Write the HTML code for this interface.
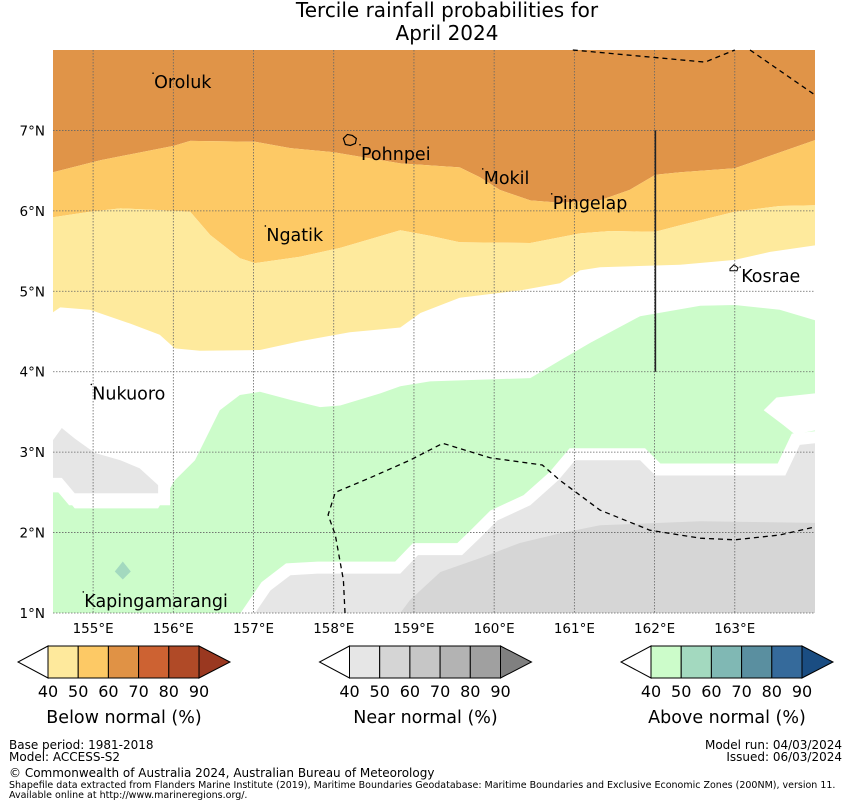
<!DOCTYPE html>
<html><head><meta charset="utf-8"><style>
body{margin:0;background:#fff;}
svg text{font-family:"DejaVu Sans","Liberation Sans",sans-serif;fill:#000;}
</style></head><body>
<svg id="chart" width="850" height="804" xmlns="http://www.w3.org/2000/svg">
<text x="447" y="17" font-size="20" text-anchor="middle">Tercile rainfall probabilities for</text>
<text x="447" y="40" font-size="20" text-anchor="middle">April 2024</text>
<g id="map"></g>
<g id="axes"></g>
<g id="bars"></g>
<g font-size="12">
<text x="9" y="749" font-size="12">Base period: 1981-2018</text>
<text x="9" y="761" font-size="12">Model: ACCESS-S2</text>
<text x="9" y="777" font-size="12">© Commonwealth of Australia 2024, Australian Bureau of Meteorology</text>
<text x="9" y="788" font-size="9.5">Shapefile data extracted from Flanders Marine Institute (2019), Maritime Boundaries Geodatabase: Maritime Boundaries and Exclusive Economic Zones (200NM), version 11.</text>
<text x="9" y="798" font-size="9.5">Available online at http://www.marineregions.org/.</text>
<text x="842" y="749" font-size="12" text-anchor="end">Model run: 04/03/2024</text>
<text x="842" y="761" font-size="12" text-anchor="end">Issued: 06/03/2024</text>
</g>
</svg>
<script>
const lonTicks=[155,156,157,158,159,160,161,162,163];
const latTicks=[1,2,3,4,5,6,7];
const belowTop60=[[154.5,6.48],[155.09,6.63],[156.01,6.81],[156.21,6.87],[157.02,6.86],[157.46,6.78],[157.99,6.73],[158.83,6.59],[159.57,6.54],[159.82,6.42],[160.07,6.26],[160.45,6.13],[160.82,6.10],[161.32,6.13],[161.69,6.26],[162.01,6.45],[162.32,6.48],[163.0,6.53],[164.0,6.88]];
const below50=[[154.5,5.92],[154.96,5.99],[155.34,6.03],[155.83,6.01],[156.21,5.99],[156.46,5.70],[156.83,5.41],[157.02,5.35],[157.58,5.43],[158.08,5.54],[158.83,5.76],[159.2,5.69],[159.57,5.61],[160.45,5.60],[161.07,5.72],[161.45,5.75],[162.01,5.74],[162.32,5.82],[163.0,5.99],[163.56,6.06],[164.0,6.07]];
const below40=[[154.5,4.74],[154.59,4.80],[154.96,4.77],[155.46,4.60],[155.83,4.46],[156.02,4.29],[156.33,4.26],[157.08,4.27],[157.58,4.38],[158.2,4.49],[158.83,4.55],[159.08,4.73],[159.57,4.92],[160.32,5.01],[160.82,5.10],[161.07,5.26],[161.32,5.30],[162.32,5.33],[163.0,5.39],[163.44,5.49],[164.0,5.57]];
const above40=[[154.5,2.50],[154.61,2.50],[154.77,2.30],[155.81,2.30],[156.02,2.65],[156.27,2.90],[156.58,3.52],[156.83,3.71],[157.08,3.75],[157.46,3.65],[157.83,3.56],[158.08,3.58],[158.58,3.73],[158.83,3.82],[159.2,3.88],[160.45,3.92],[160.82,4.14],[161.2,4.36],[161.82,4.69],[162.57,4.82],[163.0,4.83],[163.56,4.77],[164.0,4.64]];
const hole=[[163.36,3.52],[163.52,3.68],[164,3.73],[164,3.27],[163.75,3.22],[163.6,3.34]];
const near40=[[157.02,1.0],[157.21,1.28],[157.46,1.47],[157.8,1.49],[158.83,1.49],[159.05,1.72],[159.6,1.72],[159.82,1.93],[160.04,2.15],[160.45,2.34],[160.8,2.65],[161.01,2.90],[161.82,2.90],[162.01,2.71],[163.63,2.71],[163.81,3.09],[164,3.11],[164,1.0]];
const nearBlob=[[154.5,2.68],[154.5,3.15],[154.61,3.30],[154.77,3.17],[155.02,2.99],[155.34,2.90],[155.58,2.80],[155.81,2.59],[155.81,2.49],[154.77,2.49],[154.61,2.68]];
const near50=[[158.83,1.0],[158.95,1.16],[159.33,1.51],[159.82,1.68],[160.32,1.87],[160.82,1.99],[161.32,2.09],[162.57,2.14],[164,2.12],[164,1.0]];
const eezSouth=[[158.14,1.0],[158.12,1.41],[158.02,1.97],[157.93,2.22],[158.02,2.50],[158.45,2.68],[158.95,2.90],[159.36,3.11],[159.95,2.93],[160.6,2.84],[160.82,2.65],[161.32,2.28],[161.94,2.03],[162.57,1.93],[163,1.91],[163.56,1.97],[164,2.07]];
const eezNorth1=[[160.98,8.0],[162.63,7.85],[163,8.0]];
const eezNorth2=[[163.19,8.0],[164,7.44]];
const spotLon=155.37, spotLat=1.64;
const places=["Oroluk","Pohnpei","Mokil","Pingelap","Ngatik","Kosrae","Nukuoro","Kapingamarangi"];
const placeLon=[155.76,158.34,159.87,160.73,157.16,163.08,154.99,154.89];
const placeLat=[7.60,6.71,6.41,6.10,5.70,5.19,3.73,1.15];
const barLabels=["40","50","60","70","80","90"];
const belowColors=["#fee99c","#fdc965","#e09245","#cd6232","#b04a27","#9a3820"];
const nearColors=["#e6e6e6","#d5d5d5","#c6c6c6","#b3b3b3","#a0a0a0","#808080"];
const aboveColors=["#ccfcca","#a3d9bf","#80b8b4","#5a8fa0","#356a9b","#1a4d82"];
const barTitles=["Below normal (%)","Near normal (%)","Above normal (%)"];

const NS="http://www.w3.org/2000/svg";
const X0=53,X1=815,Y0=50,Y1=613,LON0=154.5,LON1=164,LAT0=1,LAT1=8;
function px(lon){return X0+(lon-LON0)*(X1-X0)/(LON1-LON0);}
function py(lat){return Y1-(lat-LAT0)*(Y1-Y0)/(LAT1-LAT0);}
function mk(tag,attrs,parent){const e=document.createElementNS(NS,tag);for(const k in attrs)e.setAttribute(k,attrs[k]);parent.appendChild(e);return e;}
function pts(a){return a.map(p=>px(p[0]).toFixed(1)+","+py(p[1]).toFixed(1)).join(" ");}
function band(top,bottom){return pts(top)+" "+pts(bottom.slice().reverse());}
const map=document.getElementById('map');
const topEdge=[[LON0,LAT1],[LON1,LAT1]], botEdge=[[LON0,LAT0],[LON1,LAT0]];
let e;
e=mk('rect',{x:X0,y:Y0,width:X1-X0,height:Y1-Y0,fill:'#ffffff'},map);

e=mk('polygon',{points:band(topEdge,belowTop60),fill:'#e09448'},map);

e=mk('polygon',{points:band(belowTop60,below50),fill:'#fdc965'},map);

e=mk('polygon',{points:band(below50,below40),fill:'#feea9d'},map);

e=mk('polygon',{points:band(above40,botEdge),fill:'#ccfcca'},map);

e=mk('polygon',{points:pts(hole),fill:'#ffffff'},map);

e=mk('polygon',{points:pts(near40),fill:'#e6e6e6',stroke:'#ffffff','stroke-width':24,'paint-order':'stroke','stroke-linejoin':'miter'},map);

e=mk('polygon',{points:pts(nearBlob),fill:'#e6e6e6',stroke:'#ffffff','stroke-width':24,'paint-order':'stroke'},map);

e=mk('polygon',{points:pts(near50),fill:'#d6d6d6'},map);

e=mk('path',{d:`M${px(spotLon)},${py(spotLat)} l-8,10 l8,8 l8,-8 z`,fill:'#a3d9bf'},map);

e=mk('rect',{x:X1,y:Y0,width:40,height:Y1-Y0,fill:'#fff'},map);

e=mk('rect',{x:X0-20,y:Y0,width:20,height:Y1-Y0,fill:'#fff'},map);

lonTicks.forEach(l=>{
  const g=mk('line',{x1:px(l),x2:px(l),y1:Y0,y2:Y1,stroke:'#666','stroke-width':0.8,'stroke-dasharray':'1.5,1.5'},map);
  
});
latTicks.forEach(l=>{
  const g=mk('line',{x1:X0,x2:X1,y1:py(l),y2:py(l),stroke:'#666','stroke-width':0.8,'stroke-dasharray':'1.5,1.5'},map);
  
});
[eezSouth,eezNorth1,eezNorth2].forEach(a=>{
  const l=mk('polyline',{points:pts(a),fill:'none',stroke:'#000','stroke-width':1.3,'stroke-dasharray':'5,4'},map);
  
});
e=mk('line',{x1:px(162.01),x2:px(162.01),y1:py(7),y2:py(4),stroke:'#222','stroke-width':1.6},map);

e=mk('path',{d:`M${px(158.12)},${py(6.9)} l4,-4 l5,1 l4,3 l-1,5 l-5,2 l-5,-1 z`,fill:'none',stroke:'#000','stroke-width':1.2},map);

e=mk('path',{d:`M${px(162.94)},${py(5.28)} l4,-4 l4,3 l-1,3 l-7,0 z`,fill:'none',stroke:'#000','stroke-width':1},map);

places.forEach((n,i)=>{
  const t=mk('text',{x:px(placeLon[i]),y:py(placeLat[i])+6,'font-size':17.5},map);
  t.textContent=n;
  
  
  const d=mk('circle',{cx:px(placeLon[i])-1,cy:py(placeLat[i])-9,r:0.8,fill:'#000'},map);
  
});
const axes=document.getElementById('axes');
lonTicks.forEach(l=>{
  const t=mk('text',{x:px(l),y:633,'font-size':13.5,'text-anchor':'middle'},axes);
  t.textContent=l+"°E";
  
});
latTicks.forEach(l=>{
  const t=mk('text',{x:45,y:py(l)+5,'font-size':13.5,'text-anchor':'end'},axes);
  t.textContent=l+"°N";
  
});
const bars=document.getElementById('bars');
[belowColors,nearColors,aboveColors].forEach((cols,bi)=>{
  const ox=bi*301.5, y0=646, y1=678, ym=662, bx=48+ox, w=30.2;
  const g=mk('g',{},bars);
  
  
  const lt=mk('polygon',{points:`${bx},${y0} ${18+ox},${ym} ${bx},${y1}`,fill:'#fff',stroke:'#000','stroke-width':1},g);
  
  for(let i=0;i<5;i++){
    const r=mk('rect',{x:bx+i*w,y:y0,width:w,height:y1-y0,fill:cols[i],stroke:'#000','stroke-width':1},g);
    
  }
  const rt=mk('polygon',{points:`${bx+5*w},${y0} ${230+ox},${ym} ${bx+5*w},${y1}`,fill:cols[5],stroke:'#000','stroke-width':1},g);
  
  barLabels.forEach((lb,i)=>{
    const t=mk('text',{x:bx+i*w,y:697,'font-size':16,'text-anchor':'middle'},g);
    t.textContent=lb;
    
  });
  const tt=mk('text',{x:124+ox,y:723,'font-size':17.5,'text-anchor':'middle'},g);
  tt.textContent=barTitles[bi];
  
});
</script>
</body></html>
